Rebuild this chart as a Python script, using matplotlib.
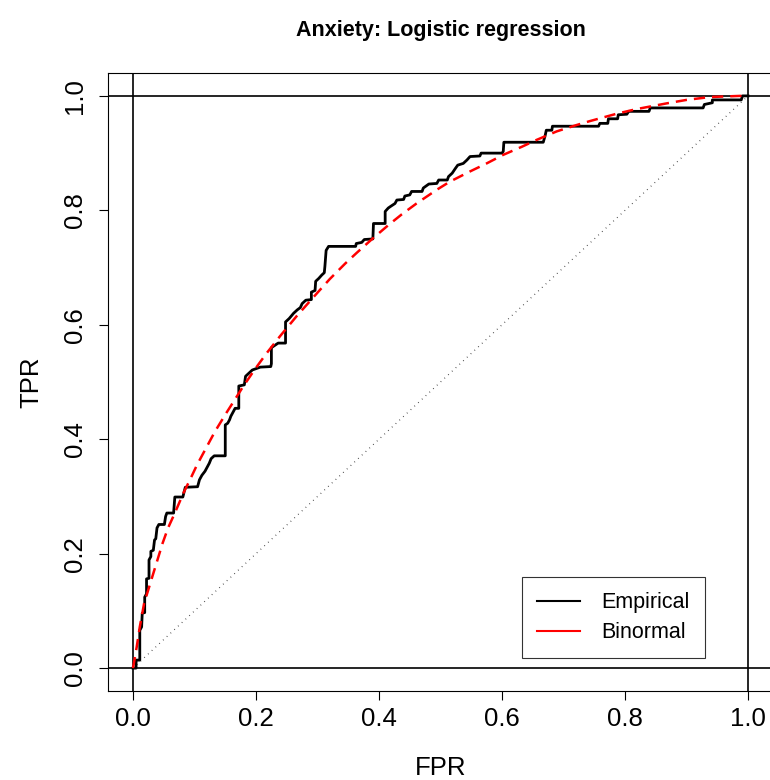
import numpy as np
import matplotlib
matplotlib.use("Agg")
import matplotlib.pyplot as plt

plt.rcParams["font.family"] = ["Liberation Sans", "DejaVu Sans"]

# empirical ROC staircase (FPR, TPR vertices)
emp_fpr = [0.000, 0.005, 0.005, 0.011, 0.011, 0.014, 0.015, 0.019, 0.019, 0.022,
           0.022, 0.026, 0.026, 0.029, 0.029, 0.033, 0.035, 0.037, 0.039, 0.042,
           0.051, 0.053, 0.055, 0.066, 0.068, 0.081, 0.085, 0.105, 0.108, 0.112,
           0.117, 0.120, 0.124, 0.127, 0.132, 0.150, 0.150, 0.154, 0.157, 0.159,
           0.163, 0.166, 0.172, 0.172, 0.181, 0.183, 0.188, 0.194, 0.207, 0.224,
           0.225, 0.225, 0.236, 0.248, 0.248, 0.254, 0.261, 0.267, 0.272, 0.275,
           0.281, 0.290, 0.290, 0.296, 0.297, 0.302, 0.307, 0.311, 0.312, 0.314,
           0.318, 0.362, 0.363, 0.372, 0.376, 0.390, 0.391, 0.410, 0.410, 0.415,
           0.419, 0.426, 0.429, 0.440, 0.442, 0.450, 0.453, 0.470, 0.472, 0.481,
           0.494, 0.497, 0.511, 0.513, 0.519, 0.524, 0.528, 0.537, 0.543, 0.548,
           0.564, 0.566, 0.600, 0.602, 0.603, 0.667, 0.670, 0.672, 0.681, 0.682,
           0.757, 0.759, 0.772, 0.773, 0.788, 0.789, 0.803, 0.806, 0.839, 0.841,
           0.927, 0.929, 0.942, 0.942, 0.989, 0.991, 1.000]
emp_tpr = [0.000, 0.000, 0.014, 0.014, 0.066, 0.072, 0.096, 0.097, 0.124, 0.130,
           0.156, 0.157, 0.189, 0.195, 0.204, 0.206, 0.224, 0.226, 0.245, 0.251,
           0.251, 0.265, 0.271, 0.271, 0.299, 0.299, 0.316, 0.317, 0.329, 0.337,
           0.344, 0.350, 0.358, 0.366, 0.371, 0.371, 0.425, 0.428, 0.434, 0.440,
           0.448, 0.454, 0.454, 0.493, 0.495, 0.510, 0.515, 0.521, 0.526, 0.527,
           0.532, 0.560, 0.568, 0.568, 0.605, 0.611, 0.620, 0.626, 0.630, 0.637,
           0.643, 0.644, 0.657, 0.660, 0.676, 0.681, 0.687, 0.691, 0.702, 0.730,
           0.737, 0.737, 0.742, 0.744, 0.749, 0.750, 0.777, 0.777, 0.798, 0.804,
           0.807, 0.812, 0.818, 0.819, 0.825, 0.827, 0.833, 0.833, 0.839, 0.846,
           0.847, 0.853, 0.853, 0.859, 0.865, 0.873, 0.879, 0.882, 0.888, 0.894,
           0.895, 0.900, 0.900, 0.903, 0.919, 0.919, 0.930, 0.940, 0.940, 0.947,
           0.947, 0.952, 0.952, 0.960, 0.960, 0.967, 0.968, 0.973, 0.973, 0.979,
           0.979, 0.985, 0.988, 0.993, 0.993, 1.000, 1.000]

# fitted binormal ROC curve
bin_fpr = [0.000, 0.006, 0.011, 0.018, 0.028, 0.038, 0.048, 0.057, 0.068, 0.082,
           0.093, 0.104, 0.117, 0.133, 0.150, 0.166, 0.179, 0.198, 0.217, 0.239,
           0.266, 0.299, 0.320, 0.345, 0.364, 0.391, 0.415, 0.437, 0.461, 0.494,
           0.515, 0.548, 0.575, 0.602, 0.632, 0.656, 0.689, 0.721, 0.743, 0.787,
           0.819, 0.868, 0.900, 0.938, 0.987, 1.000]
bin_tpr = [0.000, 0.037, 0.072, 0.113, 0.148, 0.183, 0.218, 0.245, 0.271, 0.306,
           0.330, 0.355, 0.381, 0.413, 0.443, 0.470, 0.492, 0.522, 0.550, 0.580,
           0.615, 0.655, 0.680, 0.707, 0.726, 0.752, 0.774, 0.793, 0.812, 0.836,
           0.850, 0.868, 0.882, 0.897, 0.911, 0.923, 0.938, 0.949, 0.956, 0.969,
           0.977, 0.987, 0.993, 0.998, 1.000, 1.000]

chance = [0, 1]
ticks = [0.0, 0.2, 0.4, 0.6, 0.8, 1.0]

fig = plt.figure(figsize=(7.7, 7.8), dpi=100)
ax = fig.add_axes([0.1408, 0.1141, 0.8626, 0.7923])
ax.set_xlim(-0.04, 1.04)
ax.set_ylim(-0.04, 1.04)

# reference lines at the unit square
for v in chance:
    ax.axhline(v, color="black", lw=1.2)
    ax.axvline(v, color="black", lw=1.2)
ax.plot(chance, chance, color="#333333", ls=(0, (0.6, 3.5)), lw=0.9)

ax.plot(emp_fpr, emp_tpr, color="black", lw=2.0, label="Empirical")
ax.plot(bin_fpr, bin_tpr, color="red", lw=1.8, ls=(0, (4.5, 2.8)), label="Binormal")

ax.set_xticks(ticks)
ax.set_yticks(ticks)
ax.set_xticklabels([f"{t:.1f}" for t in ticks])
ax.set_yticklabels([f"{t:.1f}" for t in ticks], rotation=90, va="center")
ax.tick_params(direction="out", length=6.5, width=0.8, labelsize=18.5, pad=5)
ax.tick_params(axis="y", pad=9)
for s in ax.spines.values():
    s.set_linewidth(0.8)

ax.set_xlabel("FPR", fontsize=18.5, labelpad=18)
ax.set_ylabel("TPR", fontsize=18.5, labelpad=14)
ax.set_title("Anxiety: Logistic regression", fontsize=15.5, fontweight="bold", pad=27)

leg = ax.legend(loc="center", bbox_to_anchor=(0.62, 0.052, 0.281, 0.133),
                frameon=True, fancybox=False, edgecolor="black", fontsize=15.5,
                handlelength=2.0, handletextpad=1.0, labelspacing=0.4,
                borderpad=0.7, borderaxespad=0)
leg.get_frame().set_linewidth(0.8)
for h in leg.get_lines():
    h.set_linestyle("-")
    h.set_linewidth(1.5)

fig.savefig("out.png", dpi=100)
